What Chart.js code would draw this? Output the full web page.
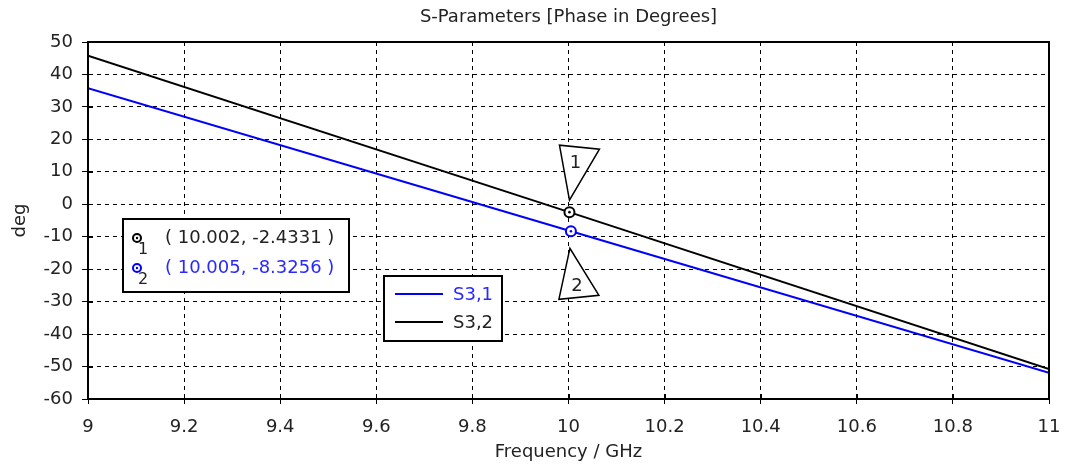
<!DOCTYPE html>
<html>
<head>
<meta charset="utf-8">
<script src="https://cdn.jsdelivr.net/npm/chart.js@4/dist/chart.umd.min.js"></script>
<style>
  html, body { margin: 0; padding: 0; background: #fff; }
  #wrap { width: 1065px; height: 467px; }
</style>
</head>
<body>
<div id="wrap"><canvas id="phaseChart" width="1065" height="467"></canvas></div>
<script>
var freq = [9, 10, 11];
var s31 = [35.8, -8.1, -51.9];
var s32 = [45.8, -2.35, -50.8];
var seriesNames = ["S3,1", "S3,2"];
var seriesColors = ["rgb(0,0,255)", "rgb(0,0,0)"];

var xTickValues = [9, 9.2, 9.4, 9.6, 9.8, 10, 10.2, 10.4, 10.6, 10.8, 11];
var xTickLabels = ["9", "9.2", "9.4", "9.6", "9.8", "10", "10.2", "10.4", "10.6", "10.8", "11"];
var yTickValues = [-60, -50, -40, -30, -20, -10, 0, 10, 20, 30, 40, 50];

var markerX = [10.002, 10.005];
var markerY = [-2.4331, -8.3256];
var markerColors = ["rgb(0,0,0)", "rgb(0,0,255)"];
var markerText = ["( 10.002, -2.4331 )", "( 10.005, -8.3256 )"];

var FONT = "'DejaVu Sans', sans-serif";
var textColor = "#222";

function pts(xs, ys) {
  return xs.map(function (x, i) { return { x: x, y: ys[i] }; });
}

// frame, inner tick marks, markers, marker table and legend box
var extras = {
  id: "extras",
  afterDraw: function (chart) {
    var ctx = chart.ctx;
    var ca = chart.chartArea;
    var xs = chart.scales.x, ys = chart.scales.y;
    ctx.save();

    // plot frame
    ctx.strokeStyle = "#000";
    ctx.lineWidth = 2;
    ctx.setLineDash([]);
    ctx.strokeRect(ca.left, ca.top, ca.right - ca.left, ca.bottom - ca.top);

    // tick marks reach a little inside the frame too
    ctx.lineWidth = 1;
    ctx.beginPath();
    ys.ticks.forEach(function (t) {
      var p = Math.round(ys.getPixelForValue(t.value)) + 0.5;
      ctx.moveTo(ca.left, p); ctx.lineTo(ca.left + 5, p);
    });
    xs.ticks.forEach(function (t) {
      var p = Math.round(xs.getPixelForValue(t.value)) + 0.5;
      ctx.moveTo(p, ca.bottom); ctx.lineTo(p, ca.bottom - 5);
    });
    ctx.stroke();

    // marker circles + triangles
    ctx.font = "18px " + FONT;
    ctx.textAlign = "center";
    ctx.textBaseline = "middle";
    for (var i = 0; i < markerX.length; i++) {
      var px = xs.getPixelForValue(markerX[i]);
      var py = ys.getPixelForValue(markerY[i]);
      ctx.fillStyle = "#fff";
      ctx.strokeStyle = markerColors[i];
      ctx.lineWidth = 2;
      ctx.beginPath(); ctx.arc(px, py, 5, 0, Math.PI * 2); ctx.fill(); ctx.stroke();
      ctx.fillStyle = markerColors[i];
      ctx.beginPath(); ctx.arc(px, py, 1.3, 0, Math.PI * 2); ctx.fill();

      ctx.strokeStyle = "#000";
      ctx.lineWidth = 1.5;
      ctx.beginPath();
      if (i === 0) {
        ctx.moveTo(px, py - 12); ctx.lineTo(px - 10, py - 67); ctx.lineTo(px + 30, py - 63);
      } else {
        ctx.moveTo(px - 1, py + 17); ctx.lineTo(px - 12, py + 68); ctx.lineTo(px + 28, py + 64);
      }
      ctx.closePath();
      ctx.fillStyle = "#fff";
      ctx.fill();
      ctx.stroke();
      ctx.fillStyle = "#222";
      ctx.fillText(String(i + 1), px + 6, i === 0 ? py - 49 : py + 55);
    }

    // marker value table
    var bx = ca.left + 35, by = ca.top + 177, bw = 226, bh = 73;
    ctx.fillStyle = "#fff";
    ctx.fillRect(bx, by, bw, bh);
    ctx.strokeStyle = "#000";
    ctx.lineWidth = 2;
    ctx.strokeRect(bx, by, bw, bh);
    for (var j = 0; j < markerText.length; j++) {
      var ry = by + 19 + j * 30;
      ctx.strokeStyle = markerColors[j];
      ctx.lineWidth = 2;
      ctx.beginPath(); ctx.arc(bx + 14, ry, 4, 0, Math.PI * 2); ctx.stroke();
      ctx.fillStyle = markerColors[j];
      ctx.beginPath(); ctx.arc(bx + 14, ry, 1.2, 0, Math.PI * 2); ctx.fill();
      ctx.font = "16px " + FONT;
      ctx.textAlign = "center";
      ctx.fillStyle = "#222";
      ctx.fillText(String(j + 1), bx + 20, ry + 12);
      ctx.font = "18px " + FONT;
      ctx.textAlign = "left";
      ctx.fillStyle = j === 0 ? "#222" : "rgb(40,40,255)";
      ctx.fillText(markerText[j], bx + 42, ry);
    }

    // legend
    var lx = ca.left + 296, ly = ca.top + 234, lw = 118, lh = 65;
    ctx.fillStyle = "#fff";
    ctx.fillRect(lx, ly, lw, lh);
    ctx.strokeStyle = "#000";
    ctx.lineWidth = 2;
    ctx.strokeRect(lx, ly, lw, lh);
    for (var k = 0; k < seriesNames.length; k++) {
      var sy = ly + 18 + k * 28;
      ctx.strokeStyle = seriesColors[k];
      ctx.lineWidth = 2;
      ctx.beginPath(); ctx.moveTo(lx + 11, sy); ctx.lineTo(lx + 59, sy); ctx.stroke();
      ctx.font = "18px " + FONT;
      ctx.textAlign = "left";
      ctx.fillStyle = k === 0 ? "rgb(40,40,255)" : "#222";
      ctx.fillText(seriesNames[k], lx + 69, sy + 1);
    }
    ctx.restore();
  }
};

new Chart(document.getElementById("phaseChart"), {
  type: "line",
  data: {
    datasets: [
      { label: seriesNames[0], data: pts(freq, s31), borderColor: seriesColors[0], borderWidth: 2, pointRadius: 0, tension: 0 },
      { label: seriesNames[1], data: pts(freq, s32), borderColor: seriesColors[1], borderWidth: 2, pointRadius: 0, tension: 0 }
    ]
  },
  options: {
    responsive: false,
    animation: false,
    layout: { padding: { left: 0, right: 16, top: 0, bottom: 0 } },
    plugins: {
      legend: { display: false },
      tooltip: { enabled: false },
      title: {
        display: true,
        fullSize: false,
        text: "S-Parameters [Phase in Degrees]",
        color: textColor,
        font: { family: FONT, size: 18, weight: "normal" },
        padding: { top: 7, bottom: 13.4 }
      }
    },
    scales: {
      x: {
        type: "linear",
        min: 9, max: 11,
        afterBuildTicks: function (s) { s.ticks = xTickValues.map(function (v) { return { value: v }; }); },
        afterFit: function (s) { s.height = 68; s.paddingLeft = 0; s.paddingRight = 0; },
        ticks: {
          color: textColor,
          font: { family: FONT, size: 18 },
          padding: 13,
          maxRotation: 0,
          callback: function (v) { var i = xTickValues.indexOf(v); return i >= 0 ? xTickLabels[i] : ""; }
        },
        grid: { color: "#000", lineWidth: 1, tickLength: 5, tickColor: "#000" },
        border: { display: true, color: "#000", width: 2, dash: [4, 4] },
        title: {
          display: true, text: "Frequency / GHz", color: textColor,
          font: { family: FONT, size: 18 }, padding: { top: 0, bottom: 4 }
        }
      },
      y: {
        type: "linear",
        min: -60, max: 50,
        afterBuildTicks: function (s) { s.ticks = yTickValues.map(function (v) { return { value: v }; }); },
        afterFit: function (s) { s.width = 88; },
        ticks: { color: textColor, font: { family: FONT, size: 18 }, padding: 9 },
        grid: { color: "#000", lineWidth: 1, tickLength: 6, tickColor: "#000" },
        border: { display: true, color: "#000", width: 2, dash: [4, 4] },
        title: {
          display: true, text: "deg", color: textColor,
          font: { family: FONT, size: 18 }, padding: { top: 10, bottom: 0 }
        }
      }
    }
  },
  plugins: [extras]
});
</script>
</body>
</html>
